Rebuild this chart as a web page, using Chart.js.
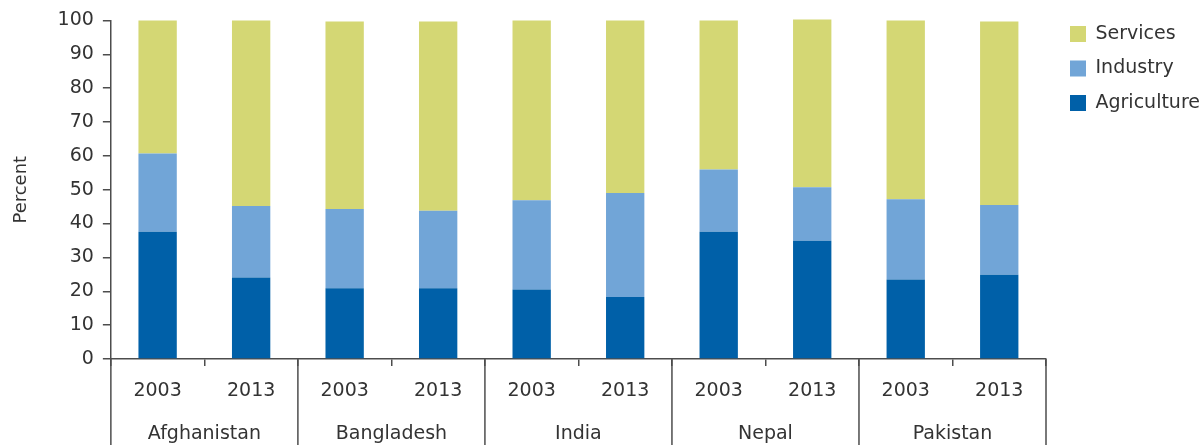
<!DOCTYPE html>
<html><head><meta charset="utf-8">
<script src="https://cdn.jsdelivr.net/npm/chart.js@4/dist/chart.umd.min.js"></script>
<style>html,body{margin:0;padding:0;background:#fff}</style>
</head><body>
<canvas id="c" width="1204" height="445"></canvas>
<script>
const countries = ['Afghanistan', 'Bangladesh', 'India', 'Nepal', 'Pakistan'];
const years = ['2003', '2013'];
const agriculture = [37.6, 24.1, 20.9, 20.9, 20.5, 18.3, 37.6, 34.9, 23.5, 24.9];
const industry    = [23.1, 21.1, 23.4, 22.9, 26.4, 30.7, 18.4, 15.8, 23.7, 20.6];
const services    = [39.3, 54.8, 55.4, 55.9, 53.1, 51.0, 44.0, 49.6, 52.8, 54.2];
const yTicks = [0, 10, 20, 30, 40, 50, 60, 70, 80, 90, 100];

const labels = [];
countries.forEach(c => years.forEach(y => labels.push(y)));

const axisColor = '#4d4d4d';
const textColor = '#333333';

Chart.defaults.font.family = "'DejaVu Sans', sans-serif";
Chart.defaults.font.size = 19;
Chart.defaults.color = textColor;

const separators = {
  id: 'separators',
  afterDraw(chart) {
    const xs = chart.scales.x2;
    const ctx = chart.ctx;
    const n = countries.length;
    const p0 = xs.getPixelForTick(0), p1 = xs.getPixelForTick(1);
    const step = p1 - p0;
    ctx.save();
    ctx.strokeStyle = axisColor;
    ctx.lineWidth = 1.5;
    for (let k = 0; k <= n; k++) {
      const x = p0 - step / 2 + k * step;
      ctx.beginPath();
      ctx.moveTo(x, chart.chartArea.bottom);
      ctx.lineTo(x, chart.height);
      ctx.stroke();
    }
    ctx.restore();
  }
};

new Chart(document.getElementById('c'), {
  type: 'bar',
  data: {
    labels: labels,
    datasets: [
      { label: 'Agriculture', data: agriculture, backgroundColor: '#0060a8' },
      { label: 'Industry', data: industry, backgroundColor: '#71a5d7' },
      { label: 'Services', data: services, backgroundColor: '#d4d774' }
    ]
  },
  options: {
    responsive: false,
    animation: false,
    devicePixelRatio: 1,
    layout: { padding: { top: 1.6, left: 0, right: 0, bottom: 0 } },
    datasets: { bar: { barPercentage: 0.41, categoryPercentage: 1, borderWidth: 0, clip: false } },
    plugins: {
      tooltip: { enabled: false },
      legend: {
        position: 'right',
        align: 'start',
        reverse: true,
        maxWidth: 149.5,
        title: { display: true, text: ' ', font: { size: 7.4, lineHeight: 1 }, padding: 0 },
        labels: { boxWidth: 16, boxHeight: 16, padding: 15.5, color: textColor, font: { size: 19 } }
      }
    },
    scales: {
      x: {
        stacked: true,
        position: 'bottom',
        weight: 0,
        offset: true,
        grid: { offset: true, drawOnChartArea: false, drawTicks: true, tickLength: 7, color: axisColor, lineWidth: 1.5 },
        border: { display: true, color: axisColor, width: 1.5 },
        ticks: { padding: 14, maxRotation: 0, autoSkip: false, color: textColor }
      },
      x2: {
        type: 'category',
        labels: countries,
        position: 'bottom',
        weight: 1,
        offset: true,
        grid: { display: false, drawTicks: false, tickLength: 0 },
        border: { display: false },
        ticks: { padding: 6, maxRotation: 0, autoSkip: false, color: textColor },
        afterFit: s => { s.height = 28.2; }
      },
      y: {
        stacked: true,
        min: 0,
        max: 100,
        afterBuildTicks: s => { s.ticks = yTicks.map(v => ({ value: v })); },
        ticks: { padding: 9, color: textColor },
        grid: { drawOnChartArea: false, drawTicks: true, tickLength: 8, color: axisColor, lineWidth: 1.5 },
        border: { display: true, color: axisColor, width: 1.5 },
        title: { display: true, text: 'Percent', color: textColor, font: { size: 18 }, padding: { top: 11, bottom: 16 } }
      },
      yR: {
        position: 'right',
        display: true,
        grid: { display: false, drawTicks: false },
        ticks: { display: false },
        border: { display: false },
        afterFit: s => { s.width = 8.5; }
      }
    }
  },
  plugins: [separators]
});
</script>
</body></html>
